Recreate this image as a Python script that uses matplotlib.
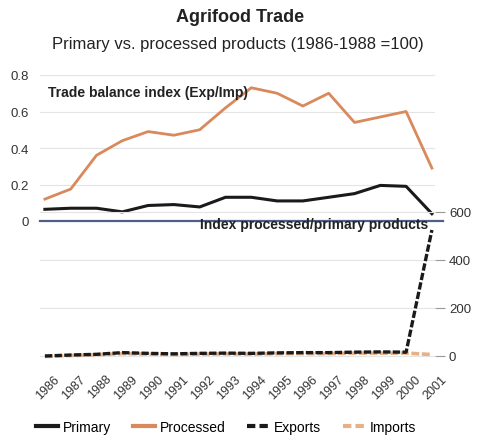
# Agrifood trade chart: trade balance index (top) and processed/primary index (bottom)

import numpy as np
import matplotlib
matplotlib.use('Agg')
import matplotlib.pyplot as plt
import matplotlib.transforms as mtransforms
from matplotlib.lines import Line2D

plt.rcParams['font.family'] = ['Liberation Sans', 'DejaVu Sans']

# Data
years = list(range(1986, 2002))
primary = [0.064, 0.07, 0.07, 0.05, 0.085, 0.09, 0.077, 0.13, 0.13, 0.11,
           0.11, 0.13, 0.15, 0.195, 0.19, 0.04]
processed = [0.12, 0.175, 0.36, 0.44, 0.49, 0.47, 0.50, 0.62, 0.73, 0.70,
             0.63, 0.70, 0.54, 0.57, 0.60, 0.29]
exports = [0, 4, 7, 14, 11, 9, 11, 12, 11, 13, 14, 14, 16, 17, 16, 525]
imports = [-2, 2, 5, 10, 8, 6, 8, 9, 8, 10, 10, 10, 12, 12, 12, 6]

orange = '#d9895b'
light_orange = '#e6b088'
grey_txt = '#333333'

W, H = 483, 439
fig = plt.figure(figsize=(W / 100, H / 100), dpi=100)
fig.patch.set_facecolor('white')


def px_axes(x0, y0, x1, y1):
    # pixel box (top-left origin) -> figure fraction axes
    return fig.add_axes([x0 / W, 1 - y1 / H, (x1 - x0) / W, (y1 - y0) / H])


x_lo, x_hi = 1985.81, 2001.12

# upper panel
ax1 = px_axes(40, 70, 435, 222)
ax1.patch.set_alpha(0)
ax1.plot(years, processed, color=orange, lw=2)
ax1.plot(years, primary, color='#1a1a1a', lw=2.2)
ax1.axhline(0, xmax=1.02, color='#4f6088', lw=1.6, zorder=5, clip_on=False)
ax1.set_xlim(x_lo, x_hi)
ax1.set_ylim(0, 0.8 + 6 * 0.8 / 146)
ax1.set_yticks([0, 0.2, 0.4, 0.6, 0.8])
ax1.set_yticklabels(['0', '0.2', '0.4', '0.6', '0.8'])
ax1.yaxis.grid(True, color='#e4e4e4', lw=0.8)
ax1.set_axisbelow(True)
ax1.tick_params(axis='y', length=0, labelsize=9.5, labelcolor=grey_txt, pad=8)
ax1.set_xticks([])
for s in ax1.spines.values():
    s.set_visible(False)
ax1.text(0.02, 0.85, 'Trade balance index (Exp/Imp)', transform=ax1.transAxes,
         fontsize=10, fontweight='bold', color='#222222', va='center')

# lower panel
ax2 = px_axes(40, 210, 435, 361)
ax2.patch.set_alpha(0)
ax2.plot(years, imports, color=light_orange, lw=2.6, dashes=(2.2, 0.7))
ax2.plot(years, exports, color='#1a1a1a', lw=2.4, dashes=(2.2, 0.7))
ax2.set_xlim(x_lo, x_hi)
ax2.set_ylim(-16.7, 612.5)
ax2.yaxis.tick_right()
ax2.set_yticks([0, 200, 400, 600])
ax2.yaxis.grid(True, color='#e4e4e4', lw=0.8)
ax2.set_axisbelow(True)
ax2.tick_params(axis='y', length=7, color='#999999', labelsize=9.5,
                labelcolor=grey_txt, pad=3)
ax2.set_xticks(years)
ax2.set_xticklabels([str(y) for y in years], rotation=45, ha='right',
                    rotation_mode='anchor', fontsize=9, color=grey_txt)
ax2.tick_params(axis='x', length=0, pad=9)
shift = mtransforms.ScaledTranslation(0.09, 0, fig.dpi_scale_trans)
for lab in ax2.get_xticklabels():
    lab.set_transform(lab.get_transform() + shift)
for s in ax2.spines.values():
    s.set_visible(False)
ax2.text(0.982, 0.90, 'Index processed/primary products', transform=ax2.transAxes,
         fontsize=10, fontweight='bold', color='#222222', va='center', ha='right')

# titles
fig.text(240 / W, 1 - 17 / H, 'Agrifood Trade', ha='center', va='center',
         fontsize=13, fontweight='bold', color='#222222')
fig.text(238 / W, 1 - 45 / H, 'Primary vs. processed products (1986-1988 =100)',
         ha='center', va='center', fontsize=12, color='#222222')

# legend
handles = [Line2D([], [], color='#1a1a1a', lw=3),
           Line2D([], [], color=orange, lw=3),
           Line2D([], [], color='#1a1a1a', lw=3, dashes=(2, 1)),
           Line2D([], [], color=light_orange, lw=3, dashes=(2, 1))]
fig.legend(handles, ['Primary', 'Processed', 'Exports', 'Imports'],
           loc='center', bbox_to_anchor=(226 / W, 1 - 428 / H), ncol=4,
           frameon=False, fontsize=10, handlelength=1.6, handletextpad=0.3,
           columnspacing=1.6)

plt.savefig('out.png', dpi=100)
